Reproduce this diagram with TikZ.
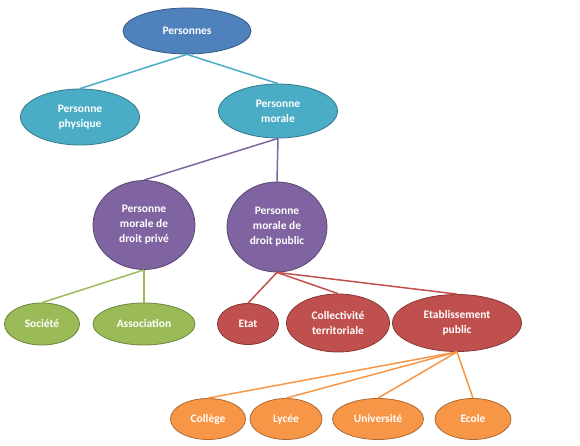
\documentclass[tikz,border=0pt]{standalone}
\usepackage{fontspec}
\setmainfont{Carlito}
\usepackage{tikz}
\usetikzlibrary{shapes.geometric}

\definecolor{OfficeBlue}{HTML}{4F81BD}
\definecolor{OfficeAqua}{HTML}{4BACC6}
\definecolor{OfficePurple}{HTML}{8064A2}
\definecolor{OfficeGreen}{HTML}{9BBB59}
\definecolor{OfficeRed}{HTML}{C0504D}
\definecolor{OfficeOrange}{HTML}{F79646}

\tikzset{
    bulle/.style={ellipse, inner sep=0pt, align=center, text=white,
        font=\fontsize{11.5}{15}\selectfont\bfseries, line width=0.8pt},
    bulle bleue/.style={bulle, fill=OfficeBlue, draw=OfficeBlue!70!black},
    bulle aqua/.style={bulle, fill=OfficeAqua, draw=OfficeAqua!70!black},
    bulle violette/.style={bulle, fill=OfficePurple, draw=OfficePurple!70!black},
    bulle verte/.style={bulle, fill=OfficeGreen, draw=OfficeGreen!70!black},
    bulle rouge/.style={bulle, fill=OfficeRed, draw=OfficeRed!70!black},
    bulle orange/.style={bulle, fill=OfficeOrange, draw=OfficeOrange!70!black},
    lien/.style={line width=1.5pt}
}

\begin{document}
\begin{tikzpicture}[x=1bp, y=-1bp]
            \useasboundingbox (0,0) rectangle (580,446);

            % les branches
            \node[bulle bleue, minimum width=128bp, minimum height=46bp] (personnes) at (187,31) {Personnes};

            \node[bulle aqua, minimum width=119bp, minimum height=56bp] (physique) at (80,117) {Personne\\physique};
            \node[bulle aqua, minimum width=119bp, minimum height=54bp] (morale) at (278,111) {Personne\\morale};

            \node[bulle violette, minimum width=102bp, minimum height=89bp] (prive) at (144,225) {Personne\\morale de\\droit privé};
            \node[bulle violette, minimum width=100bp, minimum height=90bp] (public) at (277,227) {Personne\\morale de\\droit public};

            \node[bulle verte, minimum width=75bp, minimum height=42bp] (societe) at (42,324) {Société};
            \node[bulle verte, minimum width=102bp, minimum height=42bp] (association) at (144,324) {Association};

            \node[bulle rouge, minimum width=61bp, minimum height=41bp] (etat) at (248,324) {Etat};
            \node[bulle rouge, minimum width=103bp, minimum height=58bp] (collectivite) at (338,323) {Collectivité\\territoriale};
            \node[bulle rouge, minimum width=129bp, minimum height=57bp] (etablissement) at (457,323) {Etablissement\\public};

            \node[bulle orange, minimum width=75bp, minimum height=41bp] (college) at (208,419) {Collège};
            \node[bulle orange, minimum width=72bp, minimum height=41bp] (lycee) at (286,419) {Lycée};
            \node[bulle orange, minimum width=91bp, minimum height=41bp] (universite) at (378,419) {Université};
            \node[bulle orange, minimum width=76bp, minimum height=41bp] (ecole) at (473,419) {Ecole};

            % les liens
            \draw[lien, OfficeAqua] (personnes.south) -- (physique.north);
            \draw[lien, OfficeAqua] (personnes.south) -- (morale.north);

            \draw[lien, OfficePurple] (morale.south) -- (prive.north);
            \draw[lien, OfficePurple] (morale.south) -- (public.north);

            \draw[lien, OfficeGreen] (prive.south) -- (societe.north);
            \draw[lien, OfficeGreen] (prive.south) -- (association.north);

            \draw[lien, OfficeRed] (public.south) -- (etat.north);
            \draw[lien, OfficeRed] (public.south) -- (collectivite.north);
            \draw[lien, OfficeRed] (public.south) -- (etablissement.north);

            \draw[lien, OfficeOrange] (etablissement.south) -- (college.north);
            \draw[lien, OfficeOrange] (etablissement.south) -- (lycee.north);
            \draw[lien, OfficeOrange] (etablissement.south) -- (universite.north);
            \draw[lien, OfficeOrange] (etablissement.south) -- (ecole.north);
        \end{tikzpicture}
\end{document}
